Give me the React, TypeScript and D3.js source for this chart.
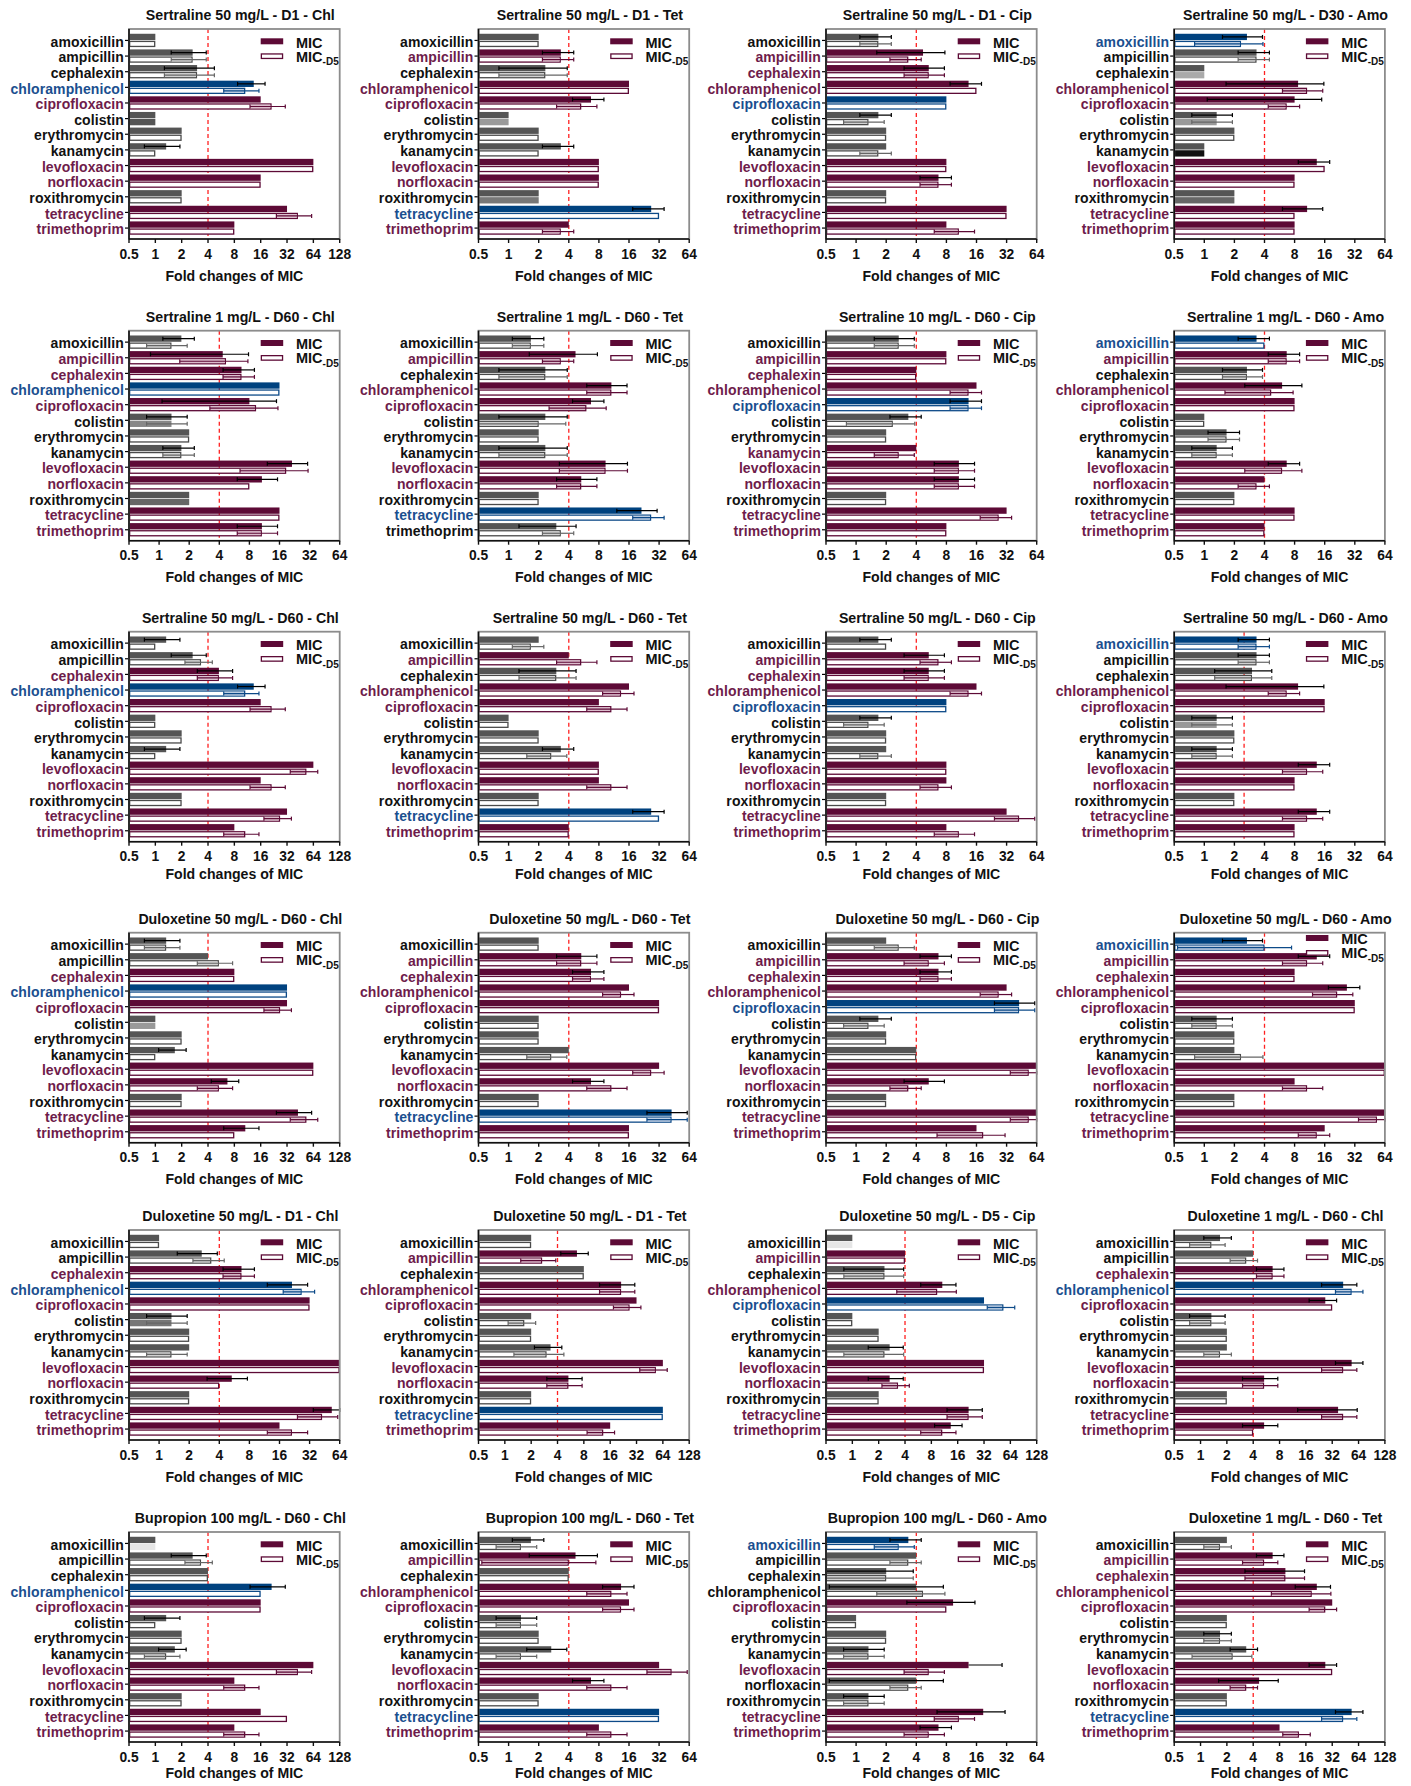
import React from 'react';
import * as d3 from 'd3';

// Antibiotics on the y axis, top to bottom
const ANTIBIOTICS = [
  'amoxicillin', 'ampicillin', 'cephalexin', 'chloramphenicol', 'ciprofloxacin',
  'colistin', 'erythromycin', 'kanamycin', 'levofloxacin', 'norfloxacin',
  'roxithromycin', 'tetracycline', 'trimethoprim',
];

const PANEL_TITLES = [
  'Sertraline 50 mg/L - D1 - Chl', 'Sertraline 50 mg/L - D1 - Tet', 'Sertraline 50 mg/L - D1 - Cip', 'Sertraline 50 mg/L - D30 - Amo',
  'Sertraline 1 mg/L - D60 - Chl', 'Sertraline 1 mg/L - D60 - Tet', 'Sertraline 10 mg/L - D60 - Cip', 'Sertraline 1 mg/L - D60 - Amo',
  'Sertraline 50 mg/L - D60 - Chl', 'Sertraline 50 mg/L - D60 - Tet', 'Sertraline 50 mg/L - D60 - Cip', 'Sertraline 50 mg/L - D60 - Amo',
  'Duloxetine 50 mg/L - D60 - Chl', 'Duloxetine 50 mg/L - D60 - Tet', 'Duloxetine 50 mg/L - D60 - Cip', 'Duloxetine 50 mg/L - D60 - Amo',
  'Duloxetine 50 mg/L - D1 - Chl', 'Duloxetine 50 mg/L - D1 - Tet', 'Duloxetine 50 mg/L - D5 - Cip', 'Duloxetine 1 mg/L - D60 - Chl',
  'Bupropion 100 mg/L - D60 - Chl', 'Bupropion 100 mg/L - D60 - Tet', 'Bupropion 100 mg/L - D60 - Amo', 'Duloxetine 1 mg/L - D60 - Tet',
];

// Upper end of each fold-change axis
const AXIS_MAX = [
  128, 64, 64, 64,
  64, 64, 64, 64,
  128, 64, 64, 64,
  128, 64, 64, 64,
  64, 128, 128, 128,
  128, 64, 64, 128,
];

// Resistance cut-off (dashed red line)
const CUTOFFS = [
  4, 4, 4, 4,
  4, 4, 4, 4,
  4, 4, 4, 2.5,
  4, 4, 4, 4,
  4, 4, 4, 4,
  4, 4, 4, 4,
];

// Per antibiotic: k = not significant, m = increased, b = selecting antibiotic
const LABEL_GROUPS = [
  'kkkbmkkkmmkmm', 'kmkmmkkkmmkbm', 'kmmmbkkkmmkmm', 'bkkmmkkkmmkmm',
  'kmmbmkkkmmkmm', 'kmkmmkkkmmkbk', 'kmmmbkkmmmkmm', 'bmkmmkkkmmkmm',
  'kkmbmkkkmmkmm', 'kmkmmkkkmmkbm', 'kmmmbkkkmmkmm', 'bkkmmkkkmmkmm',
  'kkmbmkkkmmkmm', 'kmmmmkkkmmkbm', 'kmmmbkkkmmkmm', 'bmmmmkkkmmkmm',
  'kkmbmkkkmmkmm', 'kmkmmkkkmmkbm', 'kmkmbkkkmmkmm', 'kkmbmkkkmmkmm',
  'kkkbmkkkmmkmm', 'kmkmmkkkmmkbm', 'bkkkmkkkmkkmm', 'kmmmmkkkmmkbm',
];

// Mean fold change of MIC
const MIC_MEAN = [
  [1, 2.67, 3, 13.33, 16, 1, 2, 1.33, 64, 16, 2, 32, 8],
  [2, 3.33, 2.33, 16, 6.67, 1, 2, 3.33, 8, 8, 2, 26.67, 4],
  [1.67, 4.67, 5.33, 13.33, 8, 1.67, 2, 2, 8, 6.67, 2, 32, 8],
  [2.67, 3.33, 1, 8.67, 8, 1.33, 2, 1, 13.33, 8, 2, 10.67, 8],
  [1.67, 4.33, 6.67, 16, 8, 1.33, 2, 1.67, 21.33, 10.67, 2, 16, 10.67],
  [1.67, 4.67, 2.33, 10.67, 6.67, 2.33, 2, 2.33, 9.33, 5.33, 2, 21.33, 3],
  [2.67, 8, 4, 16, 13.33, 3.33, 2, 4, 10.67, 10.67, 2, 32, 8],
  [3.33, 6.67, 2.67, 6, 8, 1, 1.67, 1.33, 6.67, 4, 2, 8, 4],
  [1.33, 2.67, 5.33, 13.33, 16, 1, 2, 1.33, 64, 16, 2, 32, 8],
  [2, 4, 3, 16, 8, 1, 2, 3.33, 8, 8, 2, 26.67, 4],
  [1.67, 5.33, 5.33, 16, 8, 1.67, 2, 2, 8, 8, 2, 32, 8],
  [3.33, 3.33, 3, 8.67, 16, 1.33, 2, 1.33, 13.33, 8, 2, 13.33, 8],
  [1.33, 4, 8, 32, 32, 1, 2, 1.67, 64, 6.67, 2, 42.67, 10.67],
  [2, 5.33, 6.67, 16, 32, 2, 2, 4, 32, 6.67, 2, 42.67, 16],
  [2, 6.67, 6.67, 32, 42.67, 1.67, 2, 4, 64, 5.33, 2, 64, 16],
  [2.67, 13.33, 8, 26.67, 32, 1.33, 2, 2, 64, 8, 2, 64, 16],
  [1, 2.67, 6.67, 21.33, 32, 1.33, 2, 2, 64, 5.33, 2, 53.33, 16],
  [2, 6.67, 8, 21.33, 32, 2, 2, 3.33, 64, 5.33, 2, 64, 16],
  [1, 4, 2.33, 10.67, 32, 1, 2, 2.67, 32, 2.67, 2, 21.33, 13.33],
  [1.67, 4, 6.67, 42.67, 26.67, 1.33, 2, 2, 53.33, 5.33, 2, 37.33, 5.33],
  [1, 2.67, 4, 21.33, 16, 1.33, 2, 1.67, 64, 8, 2, 16, 8],
  [1.67, 4.67, 4, 13.33, 16, 1.33, 2, 2.67, 32, 6.67, 2, 32, 8],
  [3.33, 4, 2, 4, 9.33, 1, 2, 1.33, 13.33, 4, 1.33, 18.67, 6.67],
  [2, 6.67, 9.33, 21.33, 32, 2, 1.67, 3.33, 26.67, 4.67, 2, 53.33, 8],
];

// Standard deviation of MIC fold change (0 = no error bar)
const MIC_SD = [
  [0, 1.15, 1.73, 4.62, 0, 0, 0, 0.58, 0, 0, 0, 0, 0],
  [0, 1.15, 1.53, 0, 2.31, 0, 0, 1.15, 0, 0, 0, 9.24, 0],
  [0.58, 3.06, 2.31, 4.62, 0, 0.58, 0, 0, 0, 2.31, 0, 0, 0],
  [1.15, 1.15, 0, 7.02, 6.93, 0.58, 0, 0, 4.62, 0, 0, 4.62, 0],
  [0.58, 3.51, 2.31, 0, 6.93, 0.58, 0, 0.58, 9.24, 4.62, 0, 0, 4.62],
  [0.58, 3.06, 1.53, 4.62, 2.31, 1.53, 0, 1.53, 6.11, 2.31, 0, 9.24, 1.73],
  [1.15, 0, 0, 0, 4.62, 1.15, 0, 0, 4.62, 4.62, 0, 0, 0],
  [1.15, 2.31, 1.15, 3.46, 0, 0, 0.58, 0.58, 2.31, 0, 0, 0, 0],
  [0.58, 1.15, 2.31, 4.62, 0, 0, 0, 0.58, 0, 0, 0, 0, 0],
  [0, 0, 1.73, 0, 0, 0, 0, 1.15, 0, 0, 0, 9.24, 0],
  [0.58, 2.31, 2.31, 0, 0, 0.58, 0, 0, 0, 0, 0, 0, 0],
  [1.15, 1.15, 1.73, 7.02, 0, 0.58, 0, 0.58, 4.62, 0, 0, 4.62, 0],
  [0.58, 0, 0, 0, 0, 0, 0, 0.58, 0, 2.31, 0, 18.48, 4.62],
  [0, 2.31, 2.31, 0, 0, 0, 0, 0, 0, 2.31, 0, 18.48, 0],
  [0, 2.31, 2.31, 0, 18.48, 0.58, 0, 0, 0, 2.31, 0, 0, 0],
  [1.15, 4.62, 0, 9.24, 0, 0.58, 0, 0, 0, 0, 0, 0, 0],
  [0, 1.15, 2.31, 9.24, 0, 0.58, 0, 0, 0, 2.31, 0, 18.48, 0],
  [0, 2.31, 0, 9.24, 0, 0, 0, 1.15, 0, 2.31, 0, 0, 0],
  [0, 0, 1.53, 4.62, 0, 0, 0, 1.15, 0, 1.15, 0, 9.24, 4.62],
  [0.58, 0, 2.31, 18.48, 9.24, 0.58, 0, 0, 18.48, 2.31, 0, 24.44, 2.31],
  [0, 1.15, 0, 9.24, 0, 0.58, 0, 0.58, 0, 0, 0, 0, 0],
  [0.58, 3.06, 0, 4.62, 0, 0.58, 0, 1.15, 0, 2.31, 0, 0, 0],
  [1.15, 0, 1.73, 3.46, 6.11, 0, 0, 0.58, 15.5, 3.46, 0.58, 12.22, 2.31],
  [0, 2.31, 6.11, 9.24, 0, 0, 0.58, 1.15, 9.24, 3.06, 0, 18.48, 0],
];

// Mean fold change of MIC after 5 days without drug (MIC-D5)
const D5_MEAN = [
  [1, 2.67, 3, 10.67, 21.33, 1, 2, 1, 64, 16, 2, 42.67, 8],
  [2, 3.33, 2.33, 16, 5.33, 1, 2, 2, 8, 8, 2, 32, 3.33],
  [1.67, 3.33, 5.33, 16, 8, 1.33, 2, 1.67, 8, 6.67, 2, 32, 10.67],
  [2.33, 3.33, 1, 10.67, 6.67, 1.33, 2, 1, 16, 8, 2, 8, 8],
  [1.33, 4.67, 6.67, 16, 9.33, 1.33, 2, 1.67, 18.67, 8, 2, 16, 10.67],
  [1.67, 3.33, 2.33, 10.67, 6, 2, 2, 2.33, 9.33, 5.33, 2, 26.67, 3.33],
  [2.67, 8, 4, 13.33, 13.33, 2.33, 2, 2.67, 10.67, 10.67, 2, 26.67, 8],
  [4, 6.67, 2.67, 4.67, 8, 1, 1.67, 1.33, 6, 3.33, 2, 8, 4],
  [1, 3.33, 5.33, 10.67, 21.33, 1, 2, 1, 53.33, 21.33, 2, 26.67, 10.67],
  [1.67, 5.33, 3, 13.33, 10.67, 1, 2, 2.67, 8, 10.67, 2, 32, 4],
  [2, 6.67, 5.33, 13.33, 8, 1.33, 2, 1.67, 8, 6.67, 2, 42.67, 10.67],
  [3.33, 3.33, 3, 6.67, 16, 1.33, 2, 1.33, 10.67, 8, 2, 10.67, 8],
  [1.33, 5.33, 8, 32, 26.67, 1, 2, 1, 64, 5.33, 2, 53.33, 8],
  [2, 5.33, 6.67, 13.33, 32, 2, 2, 2.67, 26.67, 10.67, 2, 42.67, 16],
  [2.67, 5.33, 6.67, 26.67, 42.67, 1.33, 2, 4, 53.33, 3.33, 2, 53.33, 18.67],
  [4, 10.67, 8, 21.33, 32, 1.33, 2, 2.33, 64, 10.67, 2, 53.33, 13.33],
  [1, 3.33, 6.67, 26.67, 32, 1.33, 2, 1.33, 64, 4, 2, 42.67, 21.33],
  [2, 2.67, 8, 21.33, 26.67, 1.67, 2, 3, 53.33, 5.33, 2, 64, 13.33],
  [1, 4, 2.33, 9.33, 53.33, 1, 2, 2.33, 32, 3.33, 2, 21.33, 10.67],
  [1.33, 3.33, 6.67, 53.33, 32, 1.33, 2, 1.67, 42.67, 5.33, 2, 42.67, 4],
  [1, 3.33, 4, 16, 16, 1, 2, 1.33, 42.67, 10.67, 2, 32, 10.67],
  [1.33, 4, 4, 10.67, 13.33, 1.33, 2, 1.33, 42.67, 10.67, 2, 32, 10.67],
  [2.67, 3.33, 2, 4.67, 8, 1, 2, 1.33, 5.33, 3.33, 1.33, 10.67, 5.33],
  [1.67, 5.33, 9.33, 18.67, 26.67, 2, 1.67, 2.33, 32, 3.33, 2, 42.67, 13.33],
];

// Standard deviation of MIC-D5 fold change
const D5_SD = [
  [0, 1.15, 1.73, 4.62, 9.24, 0, 0, 0, 0, 0, 0, 18.48, 0],
  [0, 1.15, 1.53, 0, 2.31, 0, 0, 0, 0, 0, 0, 0, 1.15],
  [0.58, 1.15, 2.31, 0, 0, 0.58, 0, 0.58, 0, 2.31, 0, 0, 4.62],
  [1.53, 1.15, 0, 4.62, 2.31, 0.58, 0, 0, 0, 0, 0, 0, 0],
  [0.58, 3.06, 2.31, 0, 6.11, 0.58, 0, 0.58, 12.22, 0, 0, 0, 4.62],
  [0.58, 1.15, 1.53, 4.62, 3.46, 1.73, 0, 1.53, 6.11, 2.31, 0, 9.24, 1.15],
  [1.15, 0, 0, 4.62, 4.62, 1.53, 0, 1.15, 4.62, 4.62, 0, 9.24, 0],
  [0, 2.31, 1.15, 3.06, 0, 0, 0.58, 0.58, 3.46, 1.15, 0, 0, 0],
  [0, 1.15, 2.31, 4.62, 9.24, 0, 0, 0, 18.48, 9.24, 0, 9.24, 4.62],
  [0.58, 2.31, 1.73, 4.62, 4.62, 0, 0, 1.15, 0, 4.62, 0, 0, 0],
  [0, 2.31, 2.31, 4.62, 0, 0.58, 0, 0.58, 0, 2.31, 0, 18.48, 4.62],
  [1.15, 1.15, 1.73, 2.31, 0, 0.58, 0, 0.58, 4.62, 0, 0, 4.62, 0],
  [0.58, 2.31, 0, 0, 9.24, 0, 0, 0, 0, 2.31, 0, 18.48, 0],
  [0, 2.31, 2.31, 4.62, 0, 0, 0, 1.15, 9.24, 4.62, 0, 18.48, 0],
  [1.15, 2.31, 2.31, 9.24, 18.48, 0.58, 0, 0, 18.48, 1.15, 0, 18.48, 12.22],
  [3.46, 4.62, 0, 9.24, 0, 0.58, 0, 1.53, 0, 4.62, 0, 18.48, 4.62],
  [0, 1.15, 2.31, 9.24, 0, 0.58, 0, 0.58, 0, 0, 0, 18.48, 9.24],
  [0, 1.15, 0, 9.24, 9.24, 0.58, 0, 1.73, 18.48, 2.31, 0, 0, 4.62],
  [0, 0, 1.53, 6.11, 18.48, 0, 0, 1.53, 0, 1.15, 0, 9.24, 4.62],
  [0.58, 1.15, 2.31, 18.48, 0, 0.58, 0, 0.58, 18.48, 2.31, 0, 18.48, 0],
  [0, 1.15, 0, 0, 0, 0, 0, 0.58, 18.48, 4.62, 0, 0, 4.62],
  [0.58, 3.46, 0, 4.62, 4.62, 0.58, 0, 0.58, 18.48, 4.62, 0, 0, 4.62],
  [1.15, 1.15, 1.73, 3.06, 0, 0, 0, 0.58, 2.31, 1.15, 0.58, 4.62, 2.31],
  [0.58, 2.31, 6.11, 12.22, 9.24, 0, 0.58, 1.53, 0, 1.15, 0, 18.48, 4.62],
];

// MIC-D5 bars printed with a solid fill instead of an outline: [panel, antibiotic, fill]
const SOLID_D5: [number, number, string][] = [
  [0, 5, '#555555'], [1, 5, '#9a9a9a'], [1, 10, '#777777'], [3, 2, '#aaaaaa'],
  [3, 5, '#999999'], [3, 7, '#111111'], [3, 10, '#666666'], [4, 5, '#888888'],
  [4, 10, '#666666'], [11, 5, '#999999'], [12, 5, '#999999'], [16, 5, '#777777'],
  [18, 0, '#e6e6e6'], [20, 0, '#e6e6e6'],
];

// ---- layout ----
const WIDTH = 1411;
const HEIGHT = 1786;
const COL_LEFT = [129, 478.5, 826, 1174.2];
const ROW_TOP = [29, 330.7, 631.7, 932.7, 1230, 1532];
const AXIS_TITLE_GAP = [42, 41, 37, 41, 42, 36];
const PLOT_W = 210.7;
const PLOT_H = 210;
const LEGEND_SHIFT: Record<number, number> = { 15: -7 };

const FONT = "'Liberation Sans', Arial, Helvetica, sans-serif";

const COLORS: Record<string, { bar: string; text: string; tint: string; stroke: string }> = {
  k: { bar: '#555555', text: '#111111', tint: '#d2d2d2', stroke: '#4a4a4a' },
  m: { bar: '#5d0a36', text: '#6e1c4b', tint: '#dcbccc', stroke: '#5d0a36' },
  b: { bar: '#00427f', text: '#1b4f8f', tint: '#bccde2', stroke: '#0d4a88' },
};

function errSpan(mean: number, sd: number, lo0: number, hi0: number): [number, number] | null {
  if (!sd) return null;
  let lo = mean - sd;
  if (lo <= 0) lo = mean;
  return [Math.max(lo, lo0), Math.min(mean + sd, hi0)];
}

function Panel({ idx }: { idx: number }) {
  const col = idx % 4;
  const row = Math.floor(idx / 4);
  const x0 = COL_LEFT[col];
  const y0 = ROW_TOP[row];
  const maxV = AXIS_MAX[idx];
  const x = d3.scaleLog().base(2).domain([0.5, maxV]).range([x0, x0 + PLOT_W]);
  const y = d3
    .scaleBand<string>()
    .domain(ANTIBIOTICS)
    .range([y0 + 0.8, y0 + PLOT_H - 0.3])
    .paddingInner(0.148)
    .paddingOuter(0.254);
  const sub = d3.scaleBand<string>().domain(['MIC', 'D5']).range([0, y.bandwidth()]).paddingInner(0.1);
  const bh = sub.bandwidth();
  const tickVals = d3.range(-1, Math.round(Math.log2(maxV)) + 1).map((p) => Math.pow(2, p));
  const groups = LABEL_GROUPS[idx];
  const capH = 4;
  const yb = y0 + PLOT_H;
  const ls = LEGEND_SHIFT[idx] || 0;
  const lx = x0 + PLOT_W - 79;

  return (
    <g>
      <text
        x={x0 + PLOT_W / 2 + 6}
        y={y0 - 9}
        textAnchor="middle"
        fontFamily={FONT}
        fontWeight="bold"
        fontSize={14.2}
        fill="#111"
      >
        {PANEL_TITLES[idx]}
      </text>

      {/* cut-off line sits behind the bars */}
      <line
        x1={x(CUTOFFS[idx])}
        x2={x(CUTOFFS[idx])}
        y1={y0}
        y2={yb}
        stroke="#ff2020"
        strokeWidth={1.3}
        strokeDasharray="4 3"
      />

      {ANTIBIOTICS.map((name, j) => {
        const g = groups[j];
        const c = COLORS[g];
        const by = y(name) as number;
        const yM = by + (sub('MIC') as number);
        const yD = by + (sub('D5') as number);
        const mic = MIC_MEAN[idx][j];
        const d5 = D5_MEAN[idx][j];
        const eM = errSpan(mic, MIC_SD[idx][j], 0.5, maxV);
        const eD = errSpan(d5, D5_SD[idx][j], 0.5, maxV);
        const solid = SOLID_D5.find((s) => s[0] === idx && s[1] === j);
        const midY = by + y.bandwidth() / 2;
        return (
          <g key={name}>
            {/* MIC bar */}
            <rect x={x0} y={yM} width={x(mic) - x0} height={bh} fill={c.bar} />
            {/* MIC-D5 bar */}
            {solid ? (
              <rect x={x0} y={yD} width={x(d5) - x0} height={bh} fill={solid[2]} />
            ) : (
              <>
                <rect
                  x={x0 + 0.65}
                  y={yD + 0.65}
                  width={Math.max(0, x(d5) - x0 - 1.3)}
                  height={bh - 1.3}
                  fill="#fff"
                  stroke={c.stroke}
                  strokeWidth={1.3}
                />
                {eD && eD[0] < d5 && (
                  <rect
                    x={x(eD[0])}
                    y={yD + 1.3}
                    width={Math.max(0, x(d5) - x(eD[0]) - 1.3)}
                    height={bh - 2.6}
                    fill={c.tint}
                  />
                )}
              </>
            )}
            {eM && (
              <g stroke="#000" strokeWidth={1.2}>
                <line x1={x(eM[0])} x2={x(eM[1])} y1={yM + bh / 2} y2={yM + bh / 2} />
                <line x1={x(eM[1])} x2={x(eM[1])} y1={yM + bh / 2 - capH / 2} y2={yM + bh / 2 + capH / 2} />
                {eM[0] < mic && (
                  <line x1={x(eM[0])} x2={x(eM[0])} y1={yM + bh / 2 - capH / 2} y2={yM + bh / 2 + capH / 2} />
                )}
              </g>
            )}
            {eD && (
              <g stroke={g === 'k' ? '#666' : c.stroke} strokeWidth={1.2}>
                <line x1={x(eD[0])} x2={x(eD[1])} y1={yD + bh / 2} y2={yD + bh / 2} />
                <line x1={x(eD[1])} x2={x(eD[1])} y1={yD + bh / 2 - capH / 2} y2={yD + bh / 2 + capH / 2} />
                {eD[0] < d5 && (
                  <line x1={x(eD[0])} x2={x(eD[0])} y1={yD + bh / 2 - capH / 2} y2={yD + bh / 2 + capH / 2} />
                )}
              </g>
            )}
            {/* category tick and label */}
            <line x1={x0 - 4} x2={x0} y1={midY} y2={midY} stroke="#000" strokeWidth={1.2} />
            <text
              x={x0 - 5}
              y={midY + 6.2}
              textAnchor="end"
              fontFamily={FONT}
              fontWeight="bold"
              fontSize={14}
              letterSpacing={0.1}
              fill={c.text}
            >
              {name}
            </text>
          </g>
        );
      })}

      {/* frame and axes */}
      <rect x={x0} y={y0} width={PLOT_W} height={PLOT_H} fill="none" stroke="#8c8c8c" strokeWidth={1.8} />
      <line x1={x0} x2={x0} y1={y0} y2={yb} stroke="#111" strokeWidth={1.6} />
      <line x1={x0} x2={x0 + PLOT_W} y1={yb} y2={yb} stroke="#111" strokeWidth={1.6} />
      {tickVals.map((t) => (
        <g key={t}>
          <line x1={x(t)} x2={x(t)} y1={yb} y2={yb + 4} stroke="#111" strokeWidth={1.4} />
          <text
            x={x(t)}
            y={yb + 19.5}
            textAnchor="middle"
            fontFamily={FONT}
            fontWeight="bold"
            fontSize={13.8}
            fill="#111"
          >
            {t < 1 ? '0.5' : String(t)}
          </text>
        </g>
      ))}
      <text
        x={x0 + PLOT_W / 2}
        y={yb + AXIS_TITLE_GAP[row]}
        textAnchor="middle"
        fontFamily={FONT}
        fontWeight="bold"
        fontSize={14.1}
        fill="#111"
      >
        Fold changes of MIC
      </text>

      {/* legend */}
      <rect x={lx} y={y0 + 9.3 + ls} width={22.5} height={6} fill={COLORS.m.bar} />
      <text x={x0 + PLOT_W - 43.7} y={y0 + 18.5 + ls} fontFamily={FONT} fontWeight="bold" fontSize={14.5} fill="#111">
        MIC
      </text>
      <rect
        x={lx + 0.65}
        y={y0 + 24.3 + ls + 0.65}
        width={21.2}
        height={4.5}
        fill="#fff"
        stroke={COLORS.m.stroke}
        strokeWidth={1.3}
      />
      <text x={x0 + PLOT_W - 43.7} y={y0 + 32.5 + ls} fontFamily={FONT} fontWeight="bold" fontSize={14.5} fill="#111">
        MIC
        <tspan fontSize={10} dy={3.5}>
          -D5
        </tspan>
      </text>
    </g>
  );
}

export default function App() {
  return (
    <svg
      width={WIDTH}
      height={HEIGHT}
      viewBox={`0 0 ${WIDTH} ${HEIGHT}`}
      style={{ position: 'absolute', left: 0, top: 0, background: '#fff' }}
    >
      <rect x={0} y={0} width={WIDTH} height={HEIGHT} fill="#fff" />
      {PANEL_TITLES.map((_, i) => (
        <Panel key={i} idx={i} />
      ))}
    </svg>
  );
}
